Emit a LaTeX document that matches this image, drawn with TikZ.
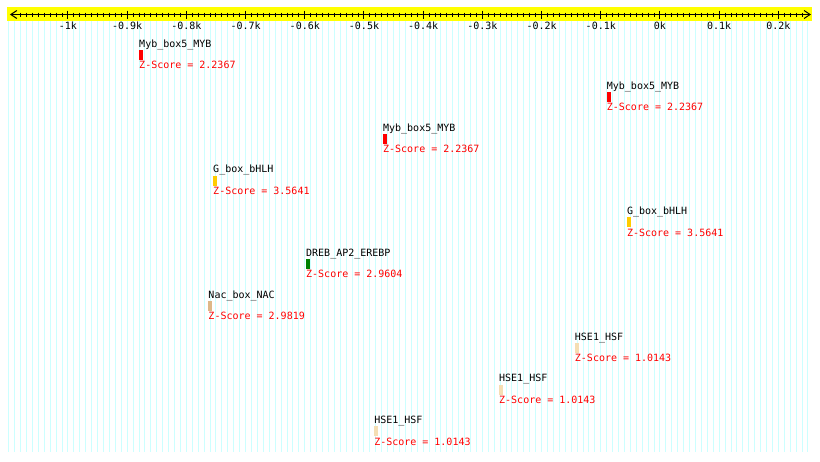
\documentclass[tikz,border=0pt]{standalone}
\usepackage{fontspec}
\setmonofont{DejaVu Sans Mono}
\usetikzlibrary{arrows.meta}

\definecolor{gridcyan}{RGB}{204,255,255}
\definecolor{axisyellow}{RGB}{255,255,0}
\definecolor{mybred}{RGB}{255,0,0}
\definecolor{gboxgold}{RGB}{255,204,0}
\definecolor{drebgreen}{RGB}{0,128,0}
\definecolor{nactan}{RGB}{222,184,135}
\definecolor{hsewheat}{RGB}{245,222,179}

\newcommand*{\xmin}{-1100}
\newcommand*{\xmax}{250}

\begin{document}
\begin{tikzpicture}
[
	x=0.592pt, y=-1pt,
	every node/.style={font=\ttfamily\fontsize{10}{12}\selectfont,inner sep=0pt},
	motif/.style={anchor=base west},
	score/.style={anchor=base west,text=mybred},
	sitebar/.style={anchor=north west,minimum width=4pt,minimum height=10pt},
	ticklbl/.style={anchor=base},
	barb/.tip={Straight Barb[length=6pt,width=8pt]}
]

	\useasboundingbox (-1114.86,0) rectangle (270.27,461);

	% grid
	\foreach \x in {\xmin,-1090,...,\xmax}
		\draw[gridcyan,line width=1pt] (\x,21) -- (\x,452);

	% axis
	\fill[axisyellow] (-1103,7) rectangle (256,21);
	\draw[barb-barb,line width=1pt] (-1098,14.5) -- (255,14.5);
	\foreach \x in {-1080,-1070,...,240}
		\draw[line width=1pt] (\x,12.5) -- (\x,16.5);
	\foreach \x/\t in {-1000/-1k,-900/-0.9k,-800/-0.8k,-700/-0.7k,-600/-0.6k,-500/-0.5k,-400/-0.4k,-300/-0.3k,-200/-0.2k,-100/-0.1k,0/0k,100/0.1k,200/0.2k}
	{
		\draw[line width=1pt] (\x,10.5) -- (\x,18.5);
		\node[ticklbl] (t\x) at (\x,29) {\t};
	}

	% sites
	\foreach \n/\m/\v/\col/\z in {0/Myb\_box5\_MYB/-880/mybred/2.2367,
		1/Myb\_box5\_MYB/-90/mybred/2.2367,
		2/Myb\_box5\_MYB/-468/mybred/2.2367,
		3/G\_box\_bHLH/-755/gboxgold/3.5641,
		4/G\_box\_bHLH/-56/gboxgold/3.5641,
		5/DREB\_AP2\_EREBP/-598/drebgreen/2.9604,
		6/Nac\_box\_NAC/-763/nactan/2.9819,
		7/HSE1\_HSF/-144/hsewheat/1.0143,
		8/HSE1\_HSF/-272/hsewheat/1.0143,
		9/HSE1\_HSF/-483/hsewheat/1.0143}
	{
		\node[sitebar,fill=\col] (bar\n) at (\v,{50+41.8*\n}) {};
		\node[motif] (motif\n) at ([yshift=2.5pt]bar\n.north west) {\m};
		\node[score] (score\n) at ([yshift=-8.5pt]bar\n.south west) {Z-Score = \z};
	}

\end{tikzpicture}
\end{document}
